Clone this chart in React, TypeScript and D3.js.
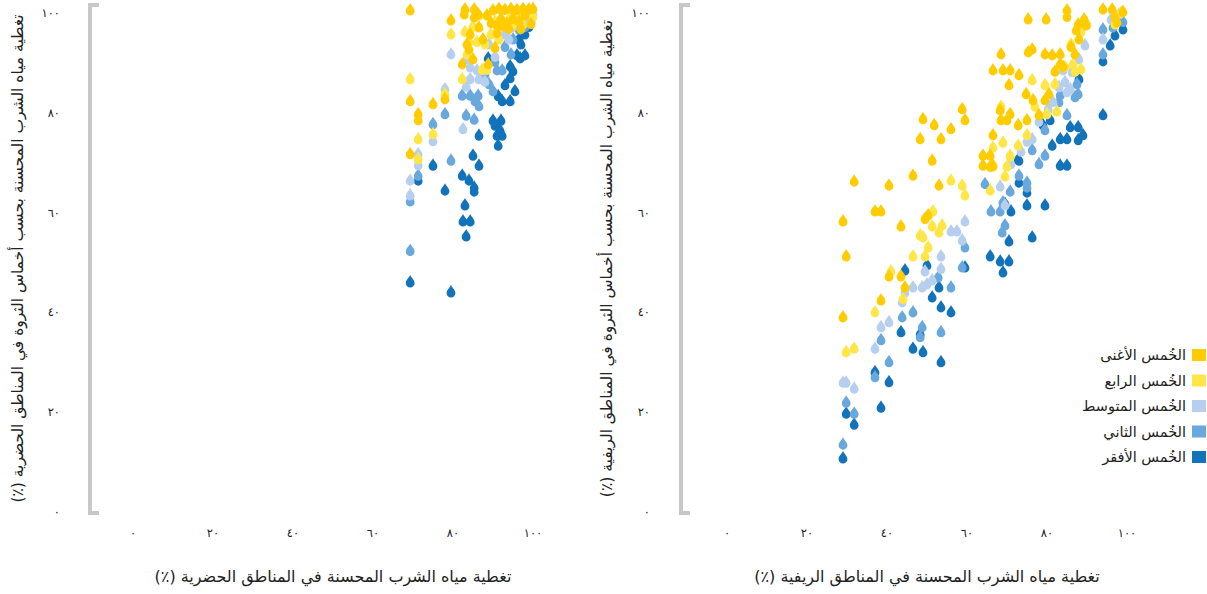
import React, { useEffect, useRef } from 'react'
import * as d3 from 'd3'

// quintile labels + colours (richest first, as in the legend)
const quintileLabels = ['الخُمس الأغنى', 'الخُمس الرابع', 'الخُمس المتوسط', 'الخُمس الثاني', 'الخُمس الأفقر']
const quintileColors = ['#FFCC00', '#FFE545', '#B7CFEE', '#68A8DC', '#1373BA']

const tickValues = [0, 20, 40, 60, 80, 100]
const tickLabels = ['٠', '٢٠', '٤٠', '٦٠', '٨٠', '١٠٠']

const urbanXTitle = 'تغطية مياه الشرب المحسنة في المناطق الحضرية (٪)'
const urbanYTitle = 'تغطية مياه الشرب المحسنة بحسب أخماس الثروة في المناطق الحضرية (٪)'
const ruralXTitle = 'تغطية مياه الشرب المحسنة في المناطق الريفية (٪)'
const ruralYTitle = 'تغطية مياه الشرب المحسنة بحسب أخماس الثروة في المناطق الريفية (٪)'

// [total coverage, quintile coverage]
const urbanRichest = [
    [69.3, 99.5], [79.5, 97.5], [69.3, 81.3], [75, 80.7], [71.3, 78.7], [71.3, 77.5], [78, 81.7], [69.3, 70.7],
    [88.8, 88.7], [82.3, 88.7], [85, 89.7], [84, 91.7], [83.5, 92.7], [83, 99.7], [85.3, 99.7], [82.8, 98.7],
    [85.3, 98.1], [86.3, 98.7], [84.3, 94.7], [86.5, 96.1], [87.5, 93.7], [90.5, 92], [91, 95], [91, 96.5],
    [90, 99.5], [91.5, 99.8], [93, 99.6], [94.5, 99.8], [96, 99.6], [97.5, 99.8], [99, 99.7], [100, 99.8],
    [92, 97.8], [95, 97.8], [98, 98.5], [93.5, 96.8], [96.5, 97.3], [94, 95.8], [99.5, 96.8], [97, 95.8],
    [92.5, 96.3], [88.5, 98.5], [89.5, 97]
]
const urbanFourth = [
    [79.5, 94.7], [69.3, 85.7], [78, 82.7], [75, 74.7], [71.3, 73.7], [71.3, 69.7], [87.3, 87.6], [88.5, 87.6],
    [82.3, 85.7], [83, 95.2], [85, 96.2], [84, 93.2], [86, 93.2], [83.5, 90.7], [89.5, 94.7], [90.5, 97.2],
    [92, 96.7], [94, 97.7], [96, 98.2], [98, 98.7], [95, 96.7], [91.5, 93.7], [97.5, 96.7], [100, 98.2],
    [88, 92.7], [86.5, 98.5]
]
const urbanMiddle = [
    [79.5, 90.7], [78, 83.7], [75, 73.3], [71.3, 70.7], [71.3, 68.5], [69.3, 65.4], [69.3, 62.4], [82.5, 75.7],
    [86, 87.5], [87.5, 87.5], [84.3, 88.1], [84.3, 85.7], [86.5, 85.7], [88, 85.2], [83.3, 84.2], [89, 92.7],
    [91.5, 94.2], [93, 94.7], [95, 96.2], [97, 97.7], [98.5, 97.2], [100, 98.7], [90.5, 90.2], [83.5, 89.7],
    [94, 93.7]
]
const urbanSecond = [
    [78, 78.7], [75, 76.7], [71.3, 66.4], [69.3, 61.2], [69.3, 51.3], [79.5, 69.4], [83.3, 78.4], [85.3, 77.6],
    [82.3, 82.4], [84.3, 82.4], [86.3, 82.4], [85.5, 81.3], [86.5, 80.3], [90, 83.3], [91, 87.5], [92.3, 87.5],
    [89, 84.7], [90.5, 89.2], [93, 92.2], [95, 93.7], [96.5, 95.7], [98, 96.2], [99.5, 97.2], [88, 86.7],
    [94.5, 90.7]
]
const urbanPoorest = [
    [71.3, 65.4], [69.3, 45], [79.5, 43], [75, 68.4], [78, 63.4], [82.3, 66.4], [84, 65.4], [85.3, 64],
    [85.3, 63.2], [85, 70.4], [86.5, 68.4], [86.5, 74.4], [83, 60.4], [82.5, 57.2], [84.3, 57.2], [83.3, 54.2],
    [90, 77.4], [92, 77.4], [90.5, 76.4], [91.8, 75.4], [92.3, 74.4], [91, 74.4], [91.3, 72.4], [91.3, 82.3],
    [92.3, 81.3], [94.3, 81.3], [95.5, 83.3], [93, 84.5], [94.3, 85.9], [95, 87.3], [94.3, 88.3], [96.8, 89.9],
    [98, 90.5], [96, 90.5], [88.8, 89.9], [97, 92.7], [98, 94.7], [99, 96.2], [96.5, 93.7]
]

const ruralRichest = [
    [29, 57.2], [29.8, 50.2], [31.8, 65.2], [29, 38], [37, 59.2], [38.5, 59.2], [40.5, 64.4], [46.5, 66.4],
    [51.3, 69.4], [53, 64.4], [43.5, 56.2], [49.5, 57.7], [50.3, 58.4], [40.5, 46.2], [43.5, 46.2], [44.5, 44],
    [38.5, 41.4], [58.8, 79.7], [59.5, 77.5], [56, 75.7], [53.5, 73.7], [49, 77.7], [51.8, 76.5], [48.3, 73.7],
    [65.8, 70.4], [65.8, 68.2], [64, 70.4], [64, 68.4], [66.5, 74.5], [66.5, 68.4], [68.3, 79.5], [70.8, 78.7],
    [70, 77.5], [68.5, 77.5], [72.8, 76.5], [75, 77.5], [78, 78.5], [74.8, 82.7], [76.5, 81.5], [79.5, 81.5],
    [80.5, 82.7], [66.5, 87.5], [69, 87.5], [70.8, 87.5], [73, 86.5], [70.5, 84.5], [68.5, 90.7], [75.3, 91.1],
    [76.3, 91.7], [79.5, 90.7], [81.3, 90.5], [83.3, 90.7], [87, 90.7], [83.3, 88.7], [82, 87.2], [84, 88.2],
    [75.3, 97.7], [79.8, 97.7], [85, 99.5], [85, 98.2], [89.3, 97.7], [87.8, 96.7], [87.3, 95.5], [89.8, 96.5],
    [94, 99.7], [96.3, 99.7], [97, 98.1], [99, 99.2], [97.5, 97.1], [88, 93.7], [86, 92.2]
]
const ruralFourth = [
    [29.8, 31], [31.8, 31.7], [37, 39], [56, 65.4], [58.8, 64.4], [59.5, 62.4], [51.5, 59.2], [51.3, 56.2],
    [53, 55], [53.8, 56.4], [48.3, 54.4], [49, 54], [50.3, 52], [46.5, 50.2], [49.5, 50.2], [66.5, 68.2],
    [69.5, 66.2], [70, 68.2], [70.8, 70.2], [65.8, 63.4], [66.5, 72], [69, 73], [70.8, 70.4], [72.8, 72.4],
    [75, 74.5], [76.3, 85.5], [79.5, 84.5], [82, 84.7], [84.5, 88.2], [86.5, 88.7], [87, 87.2], [88.5, 87.7],
    [77, 80.2], [80, 78.7], [82.5, 79.2], [68.5, 80.2], [90, 96.7], [98.5, 99], [97, 96.7], [88.5, 95.2],
    [44, 41.7], [41, 47.2], [86, 92.7]
]
const ruralMiddle = [
    [29, 24.9], [29.8, 24.9], [31.8, 23.7], [53.5, 50.2], [56, 55.2], [59.5, 57.2], [58.8, 53.4], [44.5, 43],
    [43.8, 41], [46.5, 44], [48.8, 44], [50, 44.6], [51.3, 45.4], [49.5, 47.2], [53.5, 47.7], [38.5, 36],
    [40.5, 37], [37, 31.7], [66, 68.2], [68.3, 64.2], [69.5, 60.4], [71, 68.7], [73.5, 71.2], [75, 73.2],
    [76.3, 73.7], [84, 87.5], [86.3, 87.1], [84.5, 85.1], [85.8, 83.7], [83, 84.1], [85, 83.1], [81.5, 81.1],
    [80.3, 79.7], [94, 93.7], [89.5, 92.5], [96, 97.7], [98, 98.7], [88, 89.7], [78, 77.2], [57.5, 55.2]
]
const ruralSecond = [
    [29.8, 20.9], [31.8, 18.7], [29, 12.5], [59.5, 52], [58.8, 48], [52.8, 46], [56, 44], [43.8, 38],
    [46.5, 39], [38.5, 33.4], [40.5, 29], [37, 26], [48.8, 36], [48.3, 34], [53.5, 35], [66, 59.2],
    [68.3, 59.2], [69, 61], [70.8, 63.2], [73, 66.4], [75, 65], [75, 64], [68.8, 55], [69.5, 56.4],
    [87.5, 84.7], [87.8, 82.7], [87, 82.1], [83.3, 82.5], [83, 81.1], [85, 78.5], [79.5, 75.5], [76.3, 71.5],
    [79.5, 70.4], [94, 95.7], [96.5, 96.1], [94, 90.7], [78, 68.7], [99, 97.2], [64.5, 64.7]
]
const ruralPoorest = [
    [29.8, 18.7], [31.8, 16.5], [29, 9.7], [44.5, 47.4], [50, 48.4], [51.3, 42], [53, 44], [53.5, 40],
    [56, 39], [59.5, 48], [43.5, 35], [48.3, 34.6], [46.5, 31.7], [49, 31], [53.5, 29], [37, 27],
    [40.5, 25], [38.5, 19.9], [71, 59.2], [69.5, 60.7], [73, 69.4], [73, 65], [75, 63], [75, 60.4],
    [79.5, 60.4], [70.5, 53.2], [76.3, 54], [65.8, 50.2], [68.3, 49.2], [70.5, 49.2], [69, 47], [85, 68.4],
    [80.8, 77.5], [79, 76.5], [85.8, 76.1], [87.8, 76.1], [89, 74.5], [83.3, 73.7], [85, 73.7], [87.8, 73.5],
    [81.3, 72.4], [72.8, 69.6], [83.3, 68.4], [95.8, 92.5], [97, 94.5], [94, 89.3], [94, 78.5], [88, 85.7],
    [99, 95.7]
]

const urbanSeries = [urbanRichest, urbanFourth, urbanMiddle, urbanSecond, urbanPoorest]
const ruralSeries = [ruralRichest, ruralFourth, ruralMiddle, ruralSecond, ruralPoorest]

// water drop, origin at the bottom of the drop
const dropPath = 'M0,-12.5 C0.8,-10.3 4.4,-7.6 4.4,-4.4 A4.4,4.4 0 1 1 -4.4,-4.4 C-4.4,-7.6 -0.8,-10.3 0,-12.5 Z'
const FONT = '"DejaVu Sans", sans-serif'

const App: React.FC = () => {
    const ref = useRef<any>()
    useEffect(() => {
        const svg = d3.select(ref.current)
        svg.selectAll('*').remove()

        const panels = [
            { series: urbanSeries, x0: 133, bracketX: 90, yLabelX: 60, yTitleX: 18, xTitle: urbanXTitle, yTitle: urbanYTitle },
            { series: ruralSeries, x0: 727, bracketX: 681, yLabelX: 650, yTitleX: 607, xTitle: ruralXTitle, yTitle: ruralYTitle }
        ]

        panels.forEach((p) => {
            const x = d3.scaleLinear().domain([0, 100]).range([p.x0, p.x0 + 400])
            const y = d3.scaleLinear().domain([0, 100]).range([512, 13])
            const g = svg.append('g')

            // bracket axis
            g.append('path')
                .attr('d', `M${p.bracketX + 9},${y(100) - 8}H${p.bracketX}V${y(0) + 1}H${p.bracketX + 9}`)
                .attr('fill', 'none')
                .attr('stroke', '#c8c8c8')
                .attr('stroke-width', 4)

            g.selectAll('.ytick')
                .data(tickValues)
                .join('text')
                .attr('x', p.yLabelX)
                .attr('y', (d) => y(d))
                .attr('dy', '0.35em')
                .attr('text-anchor', 'end')
                .attr('font-family', FONT)
                .attr('font-size', 11.5)
                .attr('fill', '#222')
                .text((d, i) => tickLabels[i])

            g.selectAll('.xtick')
                .data(tickValues)
                .join('text')
                .attr('x', (d) => x(d))
                .attr('y', 537)
                .attr('text-anchor', 'middle')
                .attr('font-family', FONT)
                .attr('font-size', 11.5)
                .attr('fill', '#222')
                .text((d, i) => tickLabels[i])

            g.append('text')
                .attr('x', x(50))
                .attr('y', 582)
                .attr('text-anchor', 'middle')
                .attr('direction', 'rtl')
                .attr('font-family', FONT)
                .attr('font-size', 16)
                .attr('fill', '#222')
                .text(p.xTitle)

            g.append('text')
                .attr('transform', `translate(${p.yTitleX},${y(50) - 4}) rotate(-90)`)
                .attr('dy', '0.35em')
                .attr('text-anchor', 'middle')
                .attr('direction', 'rtl')
                .attr('font-family', FONT)
                .attr('font-size', 15.5)
                .attr('fill', '#222')
                .text(p.yTitle)

            // poorest drawn first, richest on top
            const order = [4, 3, 2, 1, 0]
            order.forEach((qi) => {
                g.append('g')
                    .selectAll('path')
                    .data(p.series[qi])
                    .join('path')
                    .attr('d', dropPath)
                    .attr('transform', (d: any) => `translate(${x(d[0])},${y(d[1])})`)
                    .attr('fill', quintileColors[qi])
            })
        })

        // legend
        const legend = svg.append('g')
        const rows = legend
            .selectAll('g')
            .data(quintileLabels)
            .join('g')
            .attr('transform', (d, i) => `translate(0,${355 + i * 25.5})`)
        rows.append('rect')
            .attr('x', 1192)
            .attr('y', -6)
            .attr('width', 14)
            .attr('height', 12)
            .attr('fill', (d, i) => quintileColors[i])
        rows.append('text')
            .attr('x', 1186)
            .attr('dy', '0.35em')
            .attr('text-anchor', 'end')
            .attr('font-family', FONT)
            .attr('font-size', 14.5)
            .attr('fill', '#222')
            .text((d) => d)
    }, [])
    return (
        <div style={{ position: 'absolute', left: 0, top: 0, width: 1207, height: 594 }}>
            <svg ref={ref} width={1207} height={594} style={{ display: 'block' }}></svg>
        </div>
    )
}

export default App
